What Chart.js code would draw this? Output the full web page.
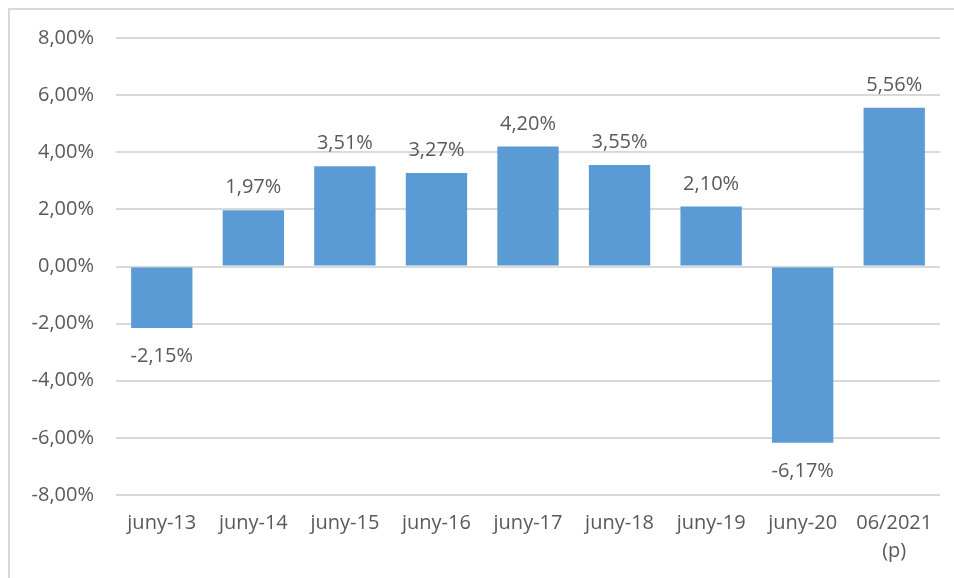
<!DOCTYPE html>
<html>
<head>
<meta charset="utf-8">
<script src="https://cdn.jsdelivr.net/npm/chart.js@4"></script>
<style>
  html, body { margin: 0; padding: 0; background: #fff; }
  #frame {
    position: absolute; left: 8px; top: 8px; width: 960px; height: 600px;
    border-top: 2px solid #d9d9d9; border-left: 2px solid #d9d9d9;
  }
  #wrap { position: absolute; left: 0; top: 0; width: 954px; height: 578px; }
</style>
</head>
<body>
<div id="frame"></div>
<div id="wrap"><canvas id="chart"></canvas></div>
<script>
// categories and values (%)
const categories = ['juny-13', 'juny-14', 'juny-15', 'juny-16', 'juny-17', 'juny-18', 'juny-19', 'juny-20', ['06/2021', '(p)']];
const values = [-2.15, 1.97, 3.51, 3.27, 4.20, 3.55, 2.10, -6.17, 5.56];
const yTicks = [-8, -6, -4, -2, 0, 2, 4, 6, 8];

const fmt = v => v.toFixed(2).replace('.', ',') + '%';
const textColor = '#595959';
const font = { family: "'Open Sans', 'Liberation Sans', sans-serif", size: 20, lineHeight: 1.4 };

// etiquetes de valor sobre/sota les barres
const valueLabels = {
  id: 'valueLabels',
  afterDatasetsDraw(chart) {
    const c = chart.ctx;
    const meta = chart.getDatasetMeta(0);
    c.save();
    c.font = font.size + 'px ' + font.family;
    c.fillStyle = textColor;
    c.textAlign = 'center';
    c.textBaseline = 'alphabetic';
    meta.data.forEach((bar, i) => {
      const v = values[i];
      if (v >= 0) c.fillText(fmt(v), bar.x, bar.y - 17);
      else c.fillText(fmt(v), bar.x, bar.y + 34);
    });
    c.restore();
  }
};

new Chart(document.getElementById('chart'), {
  type: 'bar',
  data: {
    labels: categories,
    datasets: [{
      data: values,
      backgroundColor: '#5b9bd5',
      borderWidth: 0,
      barPercentage: 0.67,
      categoryPercentage: 1
    }]
  },
  options: {
    responsive: true,
    maintainAspectRatio: false,
    animation: false,
    layout: { padding: { top: 38, right: 14, bottom: 7, left: 0 } },
    plugins: { legend: { display: false }, tooltip: { enabled: false } },
    scales: {
      x: {
        grid: { display: false },
        border: { display: false },
        ticks: { color: textColor, font: font, padding: 6, maxRotation: 0, autoSkip: false }
      },
      y: {
        min: -8, max: 8,
        afterBuildTicks: s => { s.ticks = yTicks.map(v => ({ value: v })); },
        afterFit: s => { s.width = 116; },
        grid: { color: '#d9d9d9', lineWidth: 2, drawTicks: false },
        border: { display: false },
        ticks: { color: textColor, font: font, padding: 22, callback: v => fmt(v) }
      }
    }
  },
  plugins: [valueLabels]
});
</script>
</body>
</html>
